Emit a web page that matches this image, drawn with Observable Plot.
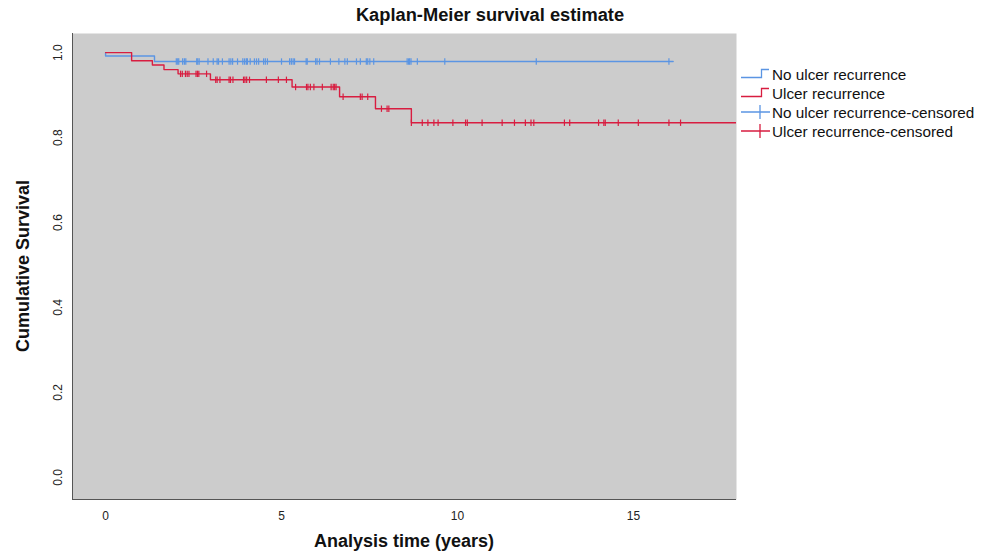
<!DOCTYPE html>
<html>
<head>
<meta charset="utf-8">
<script src="https://cdn.jsdelivr.net/npm/d3@7"></script>
<script src="https://cdn.jsdelivr.net/npm/@observablehq/plot@0.6"></script>
<style>
  html, body { margin: 0; padding: 0; background: #ffffff; }
  #chart { width: 987px; height: 557px; overflow: hidden; }
  svg { display: block; }
</style>
</head>
<body>
<div id="chart"></div>
<script>
// ---- Data ----
const groups = ["No ulcer recurrence", "Ulcer recurrence"];
const legendLabels = ["No ulcer recurrence", "Ulcer recurrence", "No ulcer recurrence-censored", "Ulcer recurrence-censored"];

// Step-function knots: time (years) and cumulative survival
const noUlcerTimes = [0, 0, 1.39, 16.13];
const noUlcerSurv  = [1.0, 0.992, 0.979, 0.979];

const ulcerTimes = [0, 0.74, 1.33, 1.66, 2.06, 2.98, 5.30, 6.65, 7.67, 8.69, 18.5];
const ulcerSurv  = [1.0, 0.981, 0.971, 0.960, 0.950, 0.936, 0.919, 0.896, 0.868, 0.835, 0.835];

// Censored observation times
const noUlcerCensored = [2.01, 2.05, 2.08, 2.19, 2.24, 2.28, 2.59, 2.62, 2.66, 2.91, 3.06, 3.17, 3.21, 3.32,
  3.51, 3.56, 3.61, 3.75, 3.90, 3.95, 4.00, 4.03, 4.11, 4.23, 4.29, 4.35, 4.49, 4.54, 4.60, 5.00, 5.23,
  5.28, 5.33, 5.37, 5.70, 5.73, 5.97, 6.01, 6.08, 6.39, 6.63, 6.80, 6.87, 7.13, 7.24, 7.41, 7.45, 7.51,
  7.62, 8.57, 8.61, 8.64, 8.68, 8.86, 9.64, 12.24, 16.01];
const ulcerCensored = [2.13, 2.18, 2.27, 2.32, 2.37, 2.57, 2.61, 2.65, 2.87, 3.13, 3.17, 3.25, 3.51, 3.55,
  3.62, 3.92, 3.96, 4.01, 4.09, 4.57, 4.91, 5.14, 5.40, 5.71, 5.75, 5.82, 5.92, 6.16, 6.41, 6.47, 6.51,
  6.55, 6.75, 7.24, 7.29, 7.45, 7.84, 8.00, 8.05, 8.69, 9.00, 9.16, 9.33, 9.45, 9.87, 10.23, 10.28, 10.70,
  11.27, 11.62, 11.93, 12.09, 12.17, 13.04, 13.19, 14.01, 14.16, 14.20, 14.57, 15.14, 16.01, 16.34];

const xTicks = [0, 5, 10, 15];
const yTicks = [0, 0.2, 0.4, 0.6, 0.8, 1.0];

const colors = ["#5b95e3", "#d81d40"];

// ---- Build tables ----
const curveRows = [
  ...noUlcerTimes.map((t, i) => ({group: groups[0], t, s: noUlcerSurv[i]})),
  ...ulcerTimes.map((t, i) => ({group: groups[1], t, s: ulcerSurv[i]}))
];
function survAt(times, surv, t) {
  let s = surv[0];
  for (let i = 0; i < times.length; i++) if (times[i] <= t) s = surv[i];
  return s;
}
const censRows = [
  ...noUlcerCensored.map(t => ({group: groups[0], t, s: survAt(noUlcerTimes, noUlcerSurv, t)})),
  ...ulcerCensored.map(t => ({group: groups[1], t, s: survAt(ulcerTimes, ulcerSurv, t)}))
];

const xDomain = [-0.94, 17.93];
const yDomain = [-0.052, 1.045];

const vtick = { draw(ctx, size) { const h = Math.sqrt(size) * 0.5; ctx.moveTo(0, -h); ctx.lineTo(0, h); } };
const tickFont = "'Liberation Sans Narrow', 'Liberation Sans', Arial, sans-serif";

const plot = Plot.plot({
  width: 987,
  height: 557,
  marginLeft: 72,
  marginRight: 251,
  marginTop: 33,
  marginBottom: 58,
  style: {background: "transparent", overflow: "visible"},
  x: {domain: xDomain, axis: null},
  y: {domain: yDomain, axis: null},
  color: {domain: groups, range: colors},
  marks: [
    Plot.frame({fill: "#cccccc", stroke: null}),
    Plot.line(curveRows, {x: "t", y: "s", z: "group", stroke: "group", curve: "step-after", strokeWidth: 1.4, clip: true}),
    Plot.dot(censRows, {x: "t", y: "s", stroke: "group", symbol: vtick, r: 3.6, strokeWidth: 1.2}),
    Plot.ruleX([xDomain[0]], {stroke: "#555555", strokeWidth: 1}),
    Plot.ruleY([yDomain[0]], {stroke: "#555555", strokeWidth: 1}),
    Plot.text(xTicks, {x: d => d, frameAnchor: "bottom", dy: 17, lineAnchor: "middle", textAnchor: "middle",
      text: d => String(d), fontSize: 12, fill: "#222222", fontFamily: tickFont}),
    Plot.text(yTicks, {y: d => d, frameAnchor: "left", dx: -14, rotate: -90, textAnchor: "middle", lineAnchor: "middle",
      text: d => d.toFixed(1), fontSize: 12, fill: "#222222", fontFamily: tickFont})
  ]
});

document.getElementById("chart").appendChild(plot);
const svg = d3.select(plot);

// Title
svg.append("text").attr("x", 490).attr("y", 21).attr("text-anchor", "middle")
  .attr("font-family", "'Liberation Sans', Arial, sans-serif").attr("font-weight", "bold")
  .attr("font-size", 18.3).attr("fill", "#111").text("Kaplan-Meier survival estimate");

// Axis titles
svg.append("text").attr("x", 404).attr("y", 547).attr("text-anchor", "middle")
  .attr("font-family", tickFont).attr("font-weight", "bold")
  .attr("font-size", 18).attr("fill", "#111").text("Analysis time (years)");
svg.append("text").attr("transform", "translate(29,266) rotate(-90)").attr("text-anchor", "middle")
  .attr("font-family", tickFont).attr("font-weight", "bold")
  .attr("font-size", 18).attr("fill", "#111").text("Cumulative Survival");

// Legend
const lg = svg.append("g").attr("font-family", "'Liberation Sans', Arial, sans-serif")
  .attr("font-size", 15.3).attr("fill", "#111").attr("text-anchor", "start");
const rowY = [74, 93, 112, 131];
legendLabels.forEach((label, i) => {
  const y = rowY[i];
  const c = colors[i % 2];
  if (i < 2) {
    lg.append("path").attr("d", `M741,${y + 3.5}H761.5V${y - 4.5}H769`).attr("fill", "none").attr("stroke", c).attr("stroke-width", 1.3);
  } else {
    lg.append("path").attr("d", `M741,${y}H770M760,${y - 7}V${y + 7}`).attr("fill", "none").attr("stroke", c).attr("stroke-width", 1.3);
  }
  lg.append("text").attr("x", 772).attr("y", y + 6).attr("text-anchor", "start").text(label);
});
</script>
</body>
</html>
